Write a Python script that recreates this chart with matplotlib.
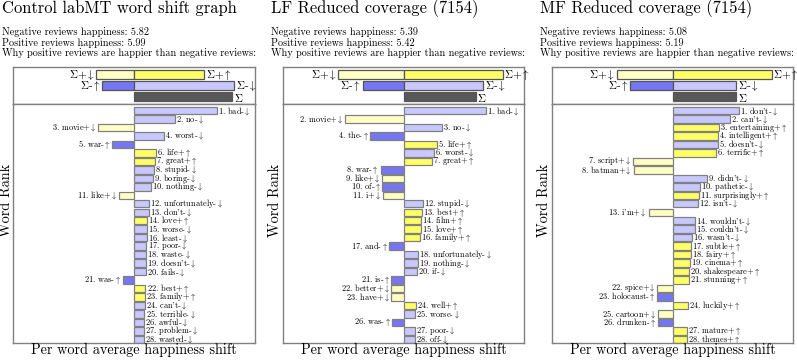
import matplotlib
matplotlib.use("Agg")
import matplotlib.pyplot as plt

plt.rcParams['font.family'] = ['cmr10', 'DejaVu Serif']
plt.rcParams['mathtext.fontset'] = 'cm'
plt.rcParams['axes.unicode_minus'] = False

W, H = 797, 361

titles = ["Control labMT word shift graph", "LF Reduced coverage (7154)", "MF Reduced coverage (7154)"]
neg_happiness = [5.82, 5.39, 5.08]
pos_happiness = [5.99, 5.42, 5.19]

# top summary values: Σ+↓, Σ+↑, Σ-↑, Σ-↓, Σ
sums_p1 = [-38, 70, -32, 100, 98]
sums_p2 = [-65.3, 99, -41, 79.7, 72.3]
sums_p3 = [-55.7, 99.3, -42.3, 63.7, 63.7]

words_p1 = ["bad", "no", "movie", "worst", "war", "life", "great", "stupid", "boring", "nothing",
            "like", "unfortunately", "don't", "love", "worse", "least", "poor", "waste", "doesn't", "fails",
            "was", "best", "family", "can't", "terrible", "awful", "problem", "wasted"]
valence_p1 = ["-", "-", "+", "-", "-", "+", "+", "-", "-", "-",
              "+", "-", "-", "+", "-", "-", "-", "-", "-", "-",
              "-", "+", "+", "-", "-", "-", "-", "-"]
shift_p1 = [83, 40.7, -36, 30, -22.5, 22, 20.5, 19.5, 18.5, 16.5,
            -15.5, 15, 14.7, 13, 12.8, 12.5, 12.2, 12, 11.8, 11.6,
            -11.4, 11.2, 11, 10.5, 10.2, 10, 9.8, 9.6]

words_p2 = ["bad", "movie", "no", "the", "life", "worst", "great", "war", "like", "of",
            "i", "stupid", "best", "film", "love", "family", "and", "unfortunately", "nothing", "if",
            "is", "better", "have", "well", "worse", "was", "poor", "off"]
valence_p2 = ["-", "+", "-", "-", "+", "-", "+", "-", "+", "-",
              "+", "-", "+", "+", "+", "+", "-", "-", "-", "-",
              "-", "+", "+", "+", "-", "-", "-", "-"]
shift_p2 = [82.3, -59, 38, -33.7, 33.5, 30, 28.6, -23, -21.4, -21.2,
            -20.7, 19.6, 18, 17.7, 17, 16.7, -14.7, 14.6, 14, 13.6,
            -12.4, -12.3, -12.1, 12, 11.7, -11.5, 11.3, 11]

words_p3 = ["don't", "can't", "entertaining", "intelligent", "doesn't", "terrific", "script", "batman", "didn't", "pathetic",
            "surprisingly", "isn't", "i'm", "wouldn't", "couldn't", "wasn't", "subtle", "fairy", "cinema", "shakespeare",
            "stunning", "spice", "holocaust", "luckily", "cartoon", "drunken", "mature", "themes"]
valence_p3 = ["-", "-", "+", "+", "-", "+", "+", "+", "-", "-",
              "+", "-", "+", "-", "-", "-", "+", "+", "+", "+",
              "+", "+", "-", "+", "+", "-", "+", "+"]
shift_p3 = [66, 57, 46, 45.7, 45.3, 43, -39.3, -39, 34, 27.3,
            26.3, 25, -24, 22.3, 22, 19.7, 18.3, 18.2, 17, 16.3,
            16, -15.3, -15.2, 15, -14.7, -14.5, 14.3, 14]

panels = [
    (sums_p1, words_p1, valence_p1, shift_p1),
    (sums_p2, words_p2, valence_p2, shift_p2),
    (sums_p3, words_p3, valence_p3, shift_p3),
]

C_PU = '#FFFF66'   # +↑
C_PD = '#FFFFC4'   # +↓
C_MU = '#7676F2'   # -↑
C_MD = '#C8C8FF'   # -↓
C_SUM = '#585858'
EDGE = '#808080'

fig = plt.figure(figsize=(W / 100, H / 100), dpi=100)


def rect(x0, y0, x1, y1):
    return [x0 / W, 1 - y1 / H, (x1 - x0) / W, (y1 - y0) / H]


box_left = [13.3, 282.7, 551.7]
box_w = 241.7
y_top0, y_top1, y_main1 = 66.7, 104.3, 342.7
XLIM = 120.85

for i, (sums, words, val, shift) in enumerate(panels):
    x0 = box_left[i]
    x1 = x0 + box_w
    xc = (x0 + x1) / 2

    # title and info
    fig.text((x0 - 11.6) / W, 1 - 13.3 / H, titles[i], fontsize=11.9, va='baseline', ha='left')
    fig.text((x0 - 11.6) / W, 1 - 35 / H, f"Negative reviews happiness: {neg_happiness[i]:.2f}",
             fontsize=7.4, va='baseline', ha='left')
    fig.text((x0 - 11.6) / W, 1 - 45.7 / H, f"Positive reviews happiness: {pos_happiness[i]:.2f}",
             fontsize=7.4, va='baseline', ha='left')
    fig.text((x0 - 11.6) / W, 1 - 56 / H, "Why positive reviews are happier than negative reviews:",
             fontsize=7.4, va='baseline', ha='left')

    # top summary box
    axt = fig.add_axes(rect(x0, y_top0, x1, y_top1))
    axt.set_xlim(-XLIM, XLIM)
    axt.set_ylim(3.69, 0.29)
    axt.set_xticks([]); axt.set_yticks([])
    for s in axt.spines.values():
        s.set_color(EDGE); s.set_linewidth(1.0)
    rows = [1, 1, 2, 2, 3]
    cols = [C_PD, C_PU, C_MU, C_MD, C_SUM]
    labs = [r'$\Sigma$+$\downarrow$', r'$\Sigma$+$\uparrow$', r'$\Sigma$-$\uparrow$',
            r'$\Sigma$-$\downarrow$', r'$\Sigma$']
    for v, r, c, lab in zip(sums, rows, cols, labs):
        axt.barh(r, v, height=0.8, color=c, edgecolor='#555555', linewidth=0.9)
        if v < 0:
            axt.text(v - 1.5, r, lab, ha='right', va='center', fontsize=8, clip_on=False)
        else:
            axt.text(v + 1.5, r + (0.15 if lab == r'$\Sigma$' else 0), lab, ha='left', va='center',
                     fontsize=8, clip_on=False)

    # main word box
    axm = fig.add_axes(rect(x0, y_top1, x1, y_main1))
    axm.set_xlim(-XLIM, XLIM)
    axm.set_ylim(28.4, 0.26)
    axm.set_xticks([]); axm.set_yticks([])
    for s in axm.spines.values():
        s.set_color(EDGE); s.set_linewidth(1.0)
    ranks = list(range(1, len(words) + 1))
    for r, w, vs, v in zip(ranks, words, val, shift):
        if vs == '+':
            c = C_PU if v > 0 else C_PD
            arrow = r'$\uparrow$' if v > 0 else r'$\downarrow$'
        else:
            c = C_MD if v > 0 else C_MU
            arrow = r'$\downarrow$' if v > 0 else r'$\uparrow$'
        axm.barh(r, v, height=0.88, color=c, edgecolor=EDGE, linewidth=0.9)
        lab = f"{r}. {w}{vs}{arrow}"
        if v > 0:
            axm.text(v + 1.2, r, lab, ha='left', va='center', fontsize=6.0, clip_on=True)
        else:
            axm.text(v - 1.2, r, lab, ha='right', va='center', fontsize=6.0, clip_on=True)

    fig.text(xc / W, 1 - 350 / H, "Per word average happiness shift", fontsize=10.25,
             ha='center', va='center')
    fig.text((x0 - 7.3) / W, 1 - 200 / H, "Word Rank", fontsize=10.25, rotation=90,
             ha='center', va='center')

fig.savefig("out.png", dpi=100)
